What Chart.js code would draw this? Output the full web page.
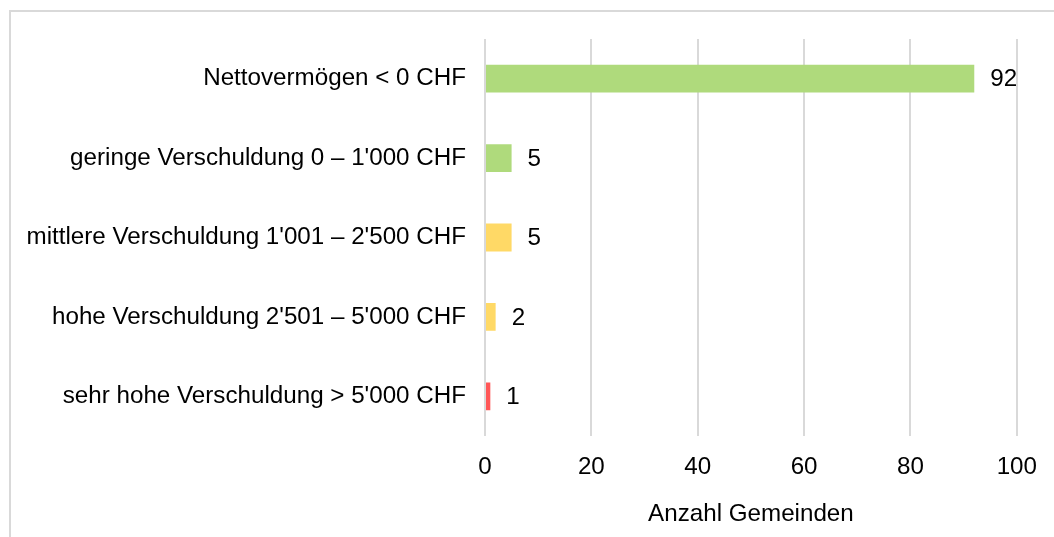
<!DOCTYPE html>
<html>
<head>
<meta charset="utf-8">
<script src="https://cdn.jsdelivr.net/npm/chart.js@4"></script>
<style>
  html, body { margin: 0; padding: 0; background: #fff; overflow: hidden; }
  #frame {
    position: absolute; left: 9px; top: 10px; width: 1100px; height: 600px;
    border: 2px solid #d9d9d9; box-sizing: border-box;
  }
  #wrap { position: absolute; left: 0; top: 0; width: 1054px; height: 537px; }
</style>
</head>
<body>
<div id="frame"></div>
<div id="wrap"><canvas id="chart"></canvas></div>
<script>
const categories = [
  "Nettovermögen < 0 CHF",
  "geringe Verschuldung 0 – 1'000 CHF",
  "mittlere Verschuldung 1'001 – 2'500 CHF",
  "hohe Verschuldung 2'501 – 5'000 CHF",
  "sehr hohe Verschuldung > 5'000 CHF"
];
const anzahl = [92, 5, 5, 2, 1];
const barColors = ["#afda7c", "#afda7c", "#ffd966", "#ffd966", "#ff5757"];
const xTicks = [0, 20, 40, 60, 80, 100];
const xTitle = "Anzahl Gemeinden";

const FONT = "'Liberation Sans', Arial, sans-serif";
const FS = 24.2;

// Werte rechts neben den Balken
const valueLabels = {
  id: "valueLabels",
  afterDatasetsDraw(chart) {
    const ctx = chart.ctx;
    const meta = chart.getDatasetMeta(0);
    ctx.save();
    ctx.font = FS + "px " + FONT;
    ctx.fillStyle = "#000";
    ctx.textAlign = "left";
    ctx.textBaseline = "middle";
    meta.data.forEach((bar, i) => {
      ctx.fillText(String(anzahl[i]), bar.x + 16, bar.y + 1);
    });
    ctx.restore();
  }
};

new Chart(document.getElementById("chart"), {
  type: "bar",
  data: {
    labels: categories,
    datasets: [{
      data: anzahl,
      backgroundColor: barColors,
      categoryPercentage: 1,
      barPercentage: 0.35
    }]
  },
  options: {
    indexAxis: "y",
    responsive: true,
    maintainAspectRatio: false,
    animation: false,
    layout: { padding: { top: 39, right: 37, left: 0, bottom: 0 } },
    plugins: {
      legend: { display: false },
      tooltip: { enabled: false }
    },
    scales: {
      x: {
        min: 0,
        max: 100,
        afterBuildTicks(scale) {
          scale.ticks = xTicks.map(v => ({ value: v }));
        },
        afterFit(scale) { scale.height = 101; },
        grid: { color: "#d9d9d9", lineWidth: 2, drawTicks: false },
        border: { display: false },
        ticks: {
          padding: 17,
          color: "#000",
          font: { family: FONT, size: FS }
        },
        title: {
          display: true,
          text: xTitle,
          color: "#000",
          font: { family: FONT, size: FS },
          padding: { top: 0, bottom: 8 }
        }
      },
      y: {
        grid: { display: false },
        border: { display: false },
        afterFit(scale) { scale.width = 485; },
        ticks: {
          padding: 11,
          color: "#000",
          font: { family: FONT, size: FS }
        }
      }
    }
  },
  plugins: [valueLabels]
});
</script>
</body>
</html>
